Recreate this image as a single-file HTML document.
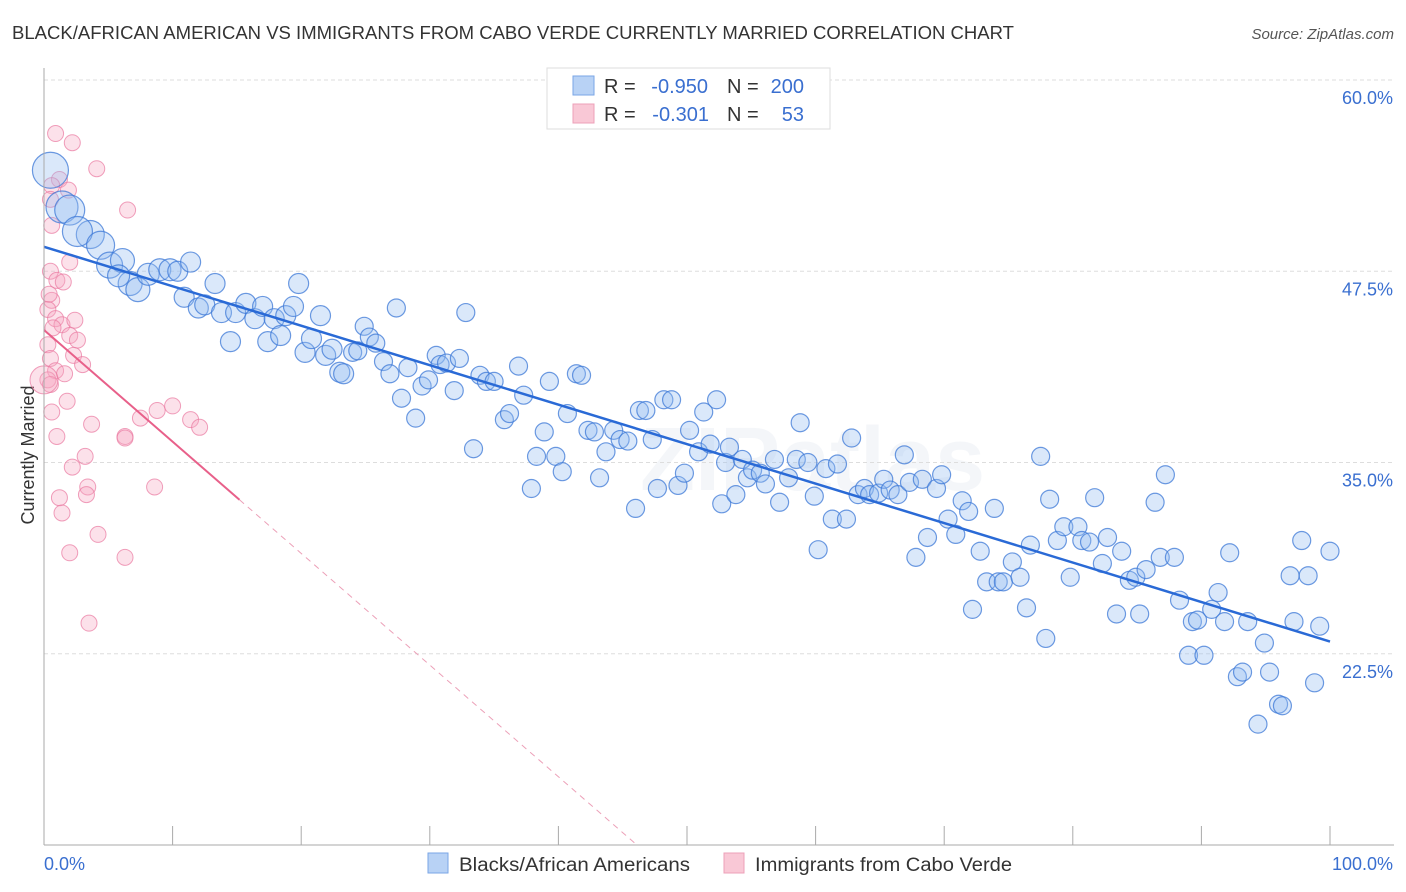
<!DOCTYPE html>
<html><head><meta charset="utf-8">
<style>
body{margin:0;background:#fff;font-family:"Liberation Sans",sans-serif;}
#wrap{position:relative;width:1406px;height:892px;overflow:hidden;}
svg text{font-family:"Liberation Sans",sans-serif;}
</style></head>
<body>
<div id="wrap">
<svg id="chart" width="1406" height="892">
<text x="12" y="39" font-size="18" fill="#333" textLength="1002" lengthAdjust="spacingAndGlyphs">BLACK/AFRICAN AMERICAN VS IMMIGRANTS FROM CABO VERDE CURRENTLY MARRIED CORRELATION CHART</text>
<text x="1394" y="39" font-size="15" fill="#555" font-style="italic" text-anchor="end">Source: ZipAtlas.com</text>
<text x="34" y="455" font-size="18" fill="#333" text-anchor="middle" transform="rotate(-90 34 455)">Currently Married</text>
<text x="640" y="490" font-size="90" fill="#e6ebf2" font-weight="bold" opacity="0.4">ZIPatlas</text>
<g id="grid"></g><g id="pink"></g><g id="blue"></g><g id="lines"></g><g id="axes"></g>
<g>
<rect x="547" y="68" width="283" height="61" fill="#fff" stroke="#ddd"/>
<rect x="573" y="76" width="21" height="19" fill="#b8d2f5" stroke="#7aa6e6"/>
<rect x="573" y="104" width="21" height="19" fill="#f9c8d6" stroke="#eda0b8"/>
<g font-size="20">
<text x="604" y="93" fill="#333">R =</text>
<text x="708" y="93" fill="#3a6fd0" text-anchor="end">-0.950</text>
<text x="727" y="93" fill="#333">N =</text>
<text x="804" y="93" fill="#3a6fd0" text-anchor="end">200</text>
</g>
<g font-size="20">
<text x="604" y="121" fill="#333">R =</text>
<text x="709" y="121" fill="#3a6fd0" text-anchor="end">-0.301</text>
<text x="727" y="121" fill="#333">N =</text>
<text x="804" y="121" fill="#3a6fd0" text-anchor="end">53</text>
</g>
</g>
<g>
<rect x="428" y="853" width="20" height="20" fill="#b8d2f5" stroke="#7aa6e6"/>
<text x="459" y="871" font-size="19" fill="#333" textLength="231" lengthAdjust="spacingAndGlyphs">Blacks/African Americans</text>
<rect x="724" y="853" width="20" height="20" fill="#f9c8d6" stroke="#eda0b8"/>
<text x="755" y="871" font-size="19" fill="#333" textLength="257" lengthAdjust="spacingAndGlyphs">Immigrants from Cabo Verde</text>
</g>
</svg>
</div>
<script>
const yTicks=[60,47.5,35,22.5];
const yTickLabels=["60.0%","47.5%","35.0%","22.5%"];
const xTicks=[0,10,20,30,40,50,60,70,80,90,100];
const blueX=[0.5,1.4,2.0,3.6,2.6,4.4,5.1,6.1,6.7,7.3,8.1,9.0,9.8,10.4,11.4,5.8,10.9,12.0,12.5,13.3,13.8,14.5,14.9,15.7,16.4,17.0,17.4,17.9,18.4,18.8,19.4,19.8,20.3,20.8,21.5,21.9,22.4,23.0,23.3,24.0,24.4,24.9,25.3,25.8,26.4,26.9,27.4,27.8,28.3,28.9,29.4,29.9,30.5,30.8,31.3,31.9,32.3,32.8,33.4,33.9,34.4,35.0,35.8,36.2,36.9,37.3,37.9,38.3,38.9,39.3,39.8,40.3,40.7,41.4,41.8,42.3,42.8,43.2,43.7,44.3,44.8,45.4,46.0,46.3,46.8,47.3,47.7,48.2,48.8,49.3,49.8,50.2,50.9,51.3,51.8,52.3,52.7,53.0,53.3,53.8,54.3,54.7,55.1,55.7,56.1,56.8,57.2,57.9,58.5,58.8,59.4,59.9,60.2,60.8,61.3,61.7,62.4,62.8,63.3,63.8,64.2,64.9,65.3,65.8,66.4,66.9,67.3,67.8,68.3,68.7,69.4,69.8,70.3,70.9,71.4,71.9,72.2,72.8,73.3,73.9,74.2,74.6,75.3,75.9,76.4,76.7,77.5,77.9,78.2,78.8,79.3,79.8,80.4,80.7,81.3,81.7,82.3,82.7,83.4,83.8,84.4,84.9,85.2,85.7,86.4,86.8,87.2,87.9,88.3,89.0,89.3,89.7,90.2,90.8,91.3,91.8,92.2,92.8,93.2,93.6,94.4,94.9,95.3,96.0,96.3,96.9,97.2,97.8,98.3,98.8,99.2,100];
const blueY=[54.1,51.7,51.5,49.9,50.1,49.2,47.9,48.2,46.7,46.3,47.3,47.6,47.6,47.5,48.1,47.2,45.8,45.1,45.3,46.7,44.8,42.9,44.8,45.4,44.4,45.2,42.9,44.4,43.3,44.6,45.2,46.7,42.2,43.1,44.6,42.0,42.4,40.9,40.8,42.2,42.3,43.9,43.2,42.8,41.6,40.8,45.1,39.2,41.2,37.9,40.0,40.4,42.0,41.4,41.5,39.7,41.8,44.8,35.9,40.7,40.3,40.3,37.8,38.2,41.3,39.4,33.3,35.4,37.0,40.3,35.4,34.4,38.2,40.8,40.7,37.1,37.0,34.0,35.7,37.1,36.5,36.4,32.0,38.4,38.4,36.5,33.3,39.1,39.1,33.5,34.3,37.1,35.7,38.3,36.2,39.1,32.3,35.0,36.0,32.9,35.2,34.0,34.5,34.3,33.6,35.2,32.4,34.0,35.2,37.6,35.0,32.8,29.3,34.6,31.3,34.9,31.3,36.6,32.9,33.3,32.9,33.0,33.9,33.2,32.9,35.5,33.7,28.8,33.9,30.1,33.3,34.2,31.3,30.3,32.5,31.8,25.4,29.2,27.2,32.0,27.2,27.2,28.5,27.5,25.5,29.6,35.4,23.5,32.6,29.9,30.8,27.5,30.8,29.9,29.8,32.7,28.4,30.1,25.1,29.2,27.3,27.5,25.1,28.0,32.4,28.8,34.2,28.8,26.0,22.4,24.6,24.7,22.4,25.4,26.5,24.6,29.1,21.0,21.3,24.6,17.9,23.2,21.3,19.2,19.1,27.6,24.6,29.9,27.6,20.6,24.3,29.2];
const blueSize=[18,16,15,14,15,14,13,12,12,12,11,11,11,10,10,11,10,10,10,10,10,10,10,10,10,10,10,10,10,10,10,10,10,10,10,10,10,10,10];
const pinkX=[0.9,2.2,4.1,6.5,1.2,1.9,0.6,0.5,0.6,2.0,0.5,1.0,1.5,0.6,0.3,0.9,1.4,2.4,0.7,2.0,2.6,0.3,0.5,2.3,3.0,0.9,1.6,0.3,0.5,0.6,3.7,6.3,7.5,8.8,10.0,11.4,12.1,1.0,2.2,3.2,6.3,8.6,3.4,3.3,1.2,1.4,4.2,2.0,6.3,3.5,0,0.4,1.8];
const pinkY=[56.5,55.9,54.2,51.5,53.5,52.8,53.1,52.2,50.5,48.1,47.5,46.9,46.8,45.6,45.0,44.4,44.0,44.3,43.8,43.3,43.0,42.7,41.8,42.0,41.4,41.0,40.8,40.4,40.1,38.3,37.5,36.7,37.9,38.4,38.7,37.8,37.3,36.7,34.7,35.4,36.6,33.4,33.4,32.9,32.7,31.7,30.3,29.1,28.8,24.5,40.4,46.0,39.0];
const blueFit=[49.1,23.3];
const pinkFit=[43.66,-0.73];
const svg=document.getElementById('chart');
const NS='http://www.w3.org/2000/svg';
const X=v=>44+v*12.86;
const Y=v=>80+(60-v)*15.3;
function mk(tag,attrs,parent){const e=document.createElementNS(NS,tag);for(const k in attrs)e.setAttribute(k,attrs[k]);document.getElementById(parent).appendChild(e);return e;}
yTicks.forEach((t,i)=>{
 const l=mk('line',{x1:44,x2:1394,y1:Y(t),y2:Y(t),stroke:'#ddd','stroke-dasharray':'4,3'},'grid');
 
 
 const tx=mk('text',{x:1393,y:Y(t)+24,'font-size':18,fill:'#3a6fd0','text-anchor':'end'},'axes');
 tx.textContent=yTickLabels[i];
 
 
});
const ax=mk('line',{x1:44,x2:1394,y1:845,y2:845,stroke:'#aaa'},'axes');


const ay=mk('line',{x1:44,x2:44,y1:68,y2:845,stroke:'#aaa'},'axes');


xTicks.forEach(t=>{
 const l=mk('line',{x1:X(t),x2:X(t),y1:826,y2:845,stroke:'#aaa'},'axes');
 
 
});
const x0=mk('text',{x:44,y:870,'font-size':18,fill:'#3a6fd0'},'axes');x0.textContent='0.0%';


const x1=mk('text',{x:1393,y:870,'font-size':18,fill:'#3a6fd0','text-anchor':'end'},'axes');x1.textContent='100.0%';


pinkX.forEach((v,i)=>{
 const c=mk('circle',{cx:X(v),cy:Y(pinkY[i]),r:i==50?14:8,fill:'rgba(246,170,195,0.35)',stroke:'rgba(234,120,160,0.7)','stroke-width':1},'pink');
 
 
});
blueX.forEach((v,i)=>{
 const c=mk('circle',{cx:X(v),cy:Y(blueY[i]),r:i<blueSize.length?blueSize[i]:9,fill:'rgba(150,190,240,0.35)',stroke:'rgba(60,120,215,0.75)','stroke-width':1.2},'blue');
 
 
});
const bl=mk('line',{x1:X(0),y1:Y(blueFit[0]),x2:X(100),y2:Y(blueFit[1]),stroke:'#2a6ad6','stroke-width':2.5},'lines');


const pEnd=(pinkFit[0]-10)/(-pinkFit[1]);
const pl=mk('line',{x1:X(0),y1:Y(pinkFit[0]),x2:X(15.2),y2:Y(pinkFit[0]+pinkFit[1]*15.2),stroke:'#e8608a','stroke-width':2},'lines');


const pd=mk('line',{x1:X(15.2),y1:Y(pinkFit[0]+pinkFit[1]*15.2),x2:X(pEnd),y2:Y(10),stroke:'#eca0b8','stroke-width':1,'stroke-dasharray':'6,5'},'lines');


</script>
</body></html>
